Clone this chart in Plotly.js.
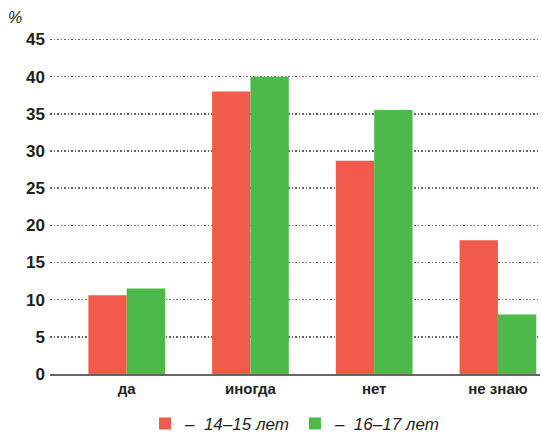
<!DOCTYPE html>
<html><head><meta charset="utf-8">
<script src="https://cdn.plot.ly/plotly-3.0.1.min.js"></script>
<style>body{margin:0;background:#fff}#chart{width:542px;height:435px}</style>
</head><body><div id="chart"></div>
<script>
const categories = ["да", "иногда", "нет", "не знаю"];
const seriesNames = ["–  14–15 лет", "–  16–17 лет"];
const values1415 = [10.6, 38.0, 28.7, 18.0];
const values1617 = [11.5, 40.0, 35.5, 8.0];
const yTicks = [0, 5, 10, 15, 20, 25, 30, 35, 40, 45];

const traces = [
  {type: "bar", x: categories, y: values1415, name: seriesNames[0], marker: {color: "#F15B4B"}},
  {type: "bar", x: categories, y: values1617, name: seriesNames[1], marker: {color: "#4DB94B"}}
];
const layout = {
  width: 542, height: 435,
  margin: {l: 50, r: 2, t: 38, b: 61, autoexpand: false},
  paper_bgcolor: "#fff", plot_bgcolor: "#fff",
  barmode: "group", bargap: 0.38, bargroupgap: 0,
  font: {family: "Liberation Sans, Arial, sans-serif", color: "#231f20"},
  xaxis: {
    range: [-0.62, 3.34], showgrid: false, ticks: "",
    tickfont: {size: 15, family: "Liberation Sans, Arial, sans-serif", weight: "bold"},
    showline: true, linecolor: "#666", linewidth: 1.5, zeroline: false
  },
  yaxis: {
    range: [0, 45.2], tickvals: yTicks, ticktext: yTicks.map(String),
    showgrid: true, gridcolor: "#666", griddash: "1.5px,2px", gridwidth: 1.5,
    zeroline: false, showline: false, ticks: "", ticklabelstandoff: 4,
    tickfont: {size: 17, family: "Liberation Sans, Arial, sans-serif", weight: "bold"}
  },
  showlegend: true,
  legend: {
    orientation: "h", x: 0.5, xanchor: "center", y: -0.095, yanchor: "top",
    font: {size: 17, family: "Liberation Sans, Arial, sans-serif", style: "italic"},
    itemwidth: 30, traceorder: "normal"
  },
  annotations: [{
    text: "%", xref: "paper", yref: "paper", x: -0.072, y: 1.03, xanchor: "center", yanchor: "bottom",
    showarrow: false, font: {size: 16, style: "italic", family: "Liberation Sans, Arial, sans-serif"}
  }]
};
Plotly.newPlot("chart", traces, layout, {displayModeBar: false, staticPlot: true});
</script>
</body></html>
